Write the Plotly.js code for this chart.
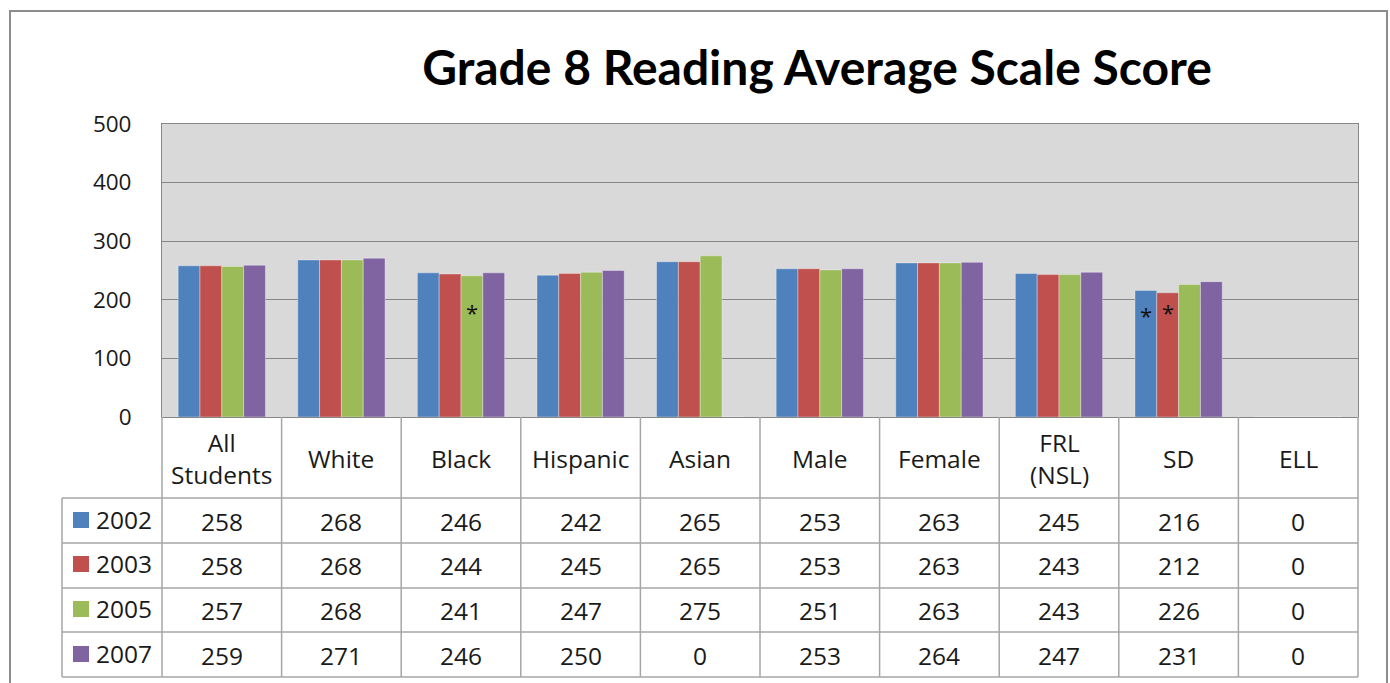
<!DOCTYPE html>
<html>
<head>
<meta charset="utf-8">
<script src="https://cdn.plot.ly/plotly-3.0.1.min.js"></script>
<style>html,body{margin:0;padding:0;background:#fff;}#chart{width:1390px;height:683px;}</style>
</head>
<body>
<div id="chart"></div>
<script>
const categories = ["All Students","White","Black","Hispanic","Asian","Male","Female","FRL (NSL)","SD","ELL"];
const headerLabels = ["All<br>Students","White","Black","Hispanic","Asian","Male","Female","FRL<br>(NSL)","SD","ELL"];
const years = ["2002","2003","2005","2007"];
const v2002 = [258,268,246,242,265,253,263,245,216,0];
const v2003 = [258,268,244,245,265,253,263,243,212,0];
const v2005 = [257,268,241,247,275,251,263,243,226,0];
const v2007 = [259,271,246,250,0,253,264,247,231,0];
const seriesValues = [v2002, v2003, v2005, v2007];
const colors = ["#4F81BD","#C0504D","#9BBB59","#8064A2"];
const yTicks = [0,100,200,300,400,500];
// asterisk notes: [category index, series index, y position]
const notes = [[2,2,180],[8,0,174],[8,1,179]];

const W = 1390, H = 683;
const plotL = 162, plotR = 1358, plotT = 124, plotB = 417;
const px = x => (x - plotL) / (plotR - plotL);
const py = y => (plotB - y) / (plotB - plotT);

const FONT = "Open Sans";
const TSIZE = 24.5;
const gridCol = "#868686";
const tblCol = "#A6A6A6";
const txtCol = "#1a1a1a";

const traces = seriesValues.map((vals, i) => ({
  type: "bar",
  name: years[i],
  x: categories,
  y: vals,
  marker: {color: colors[i], line: {color: "rgba(255,255,255,0.35)", width: 1}},
  hoverinfo: "x+y+name"
}));

const shapes = [];
const annotations = [];

// outer chart border
shapes.push({type:"rect", xref:"paper", yref:"paper", x0:px(10), x1:px(1387), y0:py(700), y1:py(11),
  line:{color:"#8C8C8C", width:2}, fillcolor:"rgba(0,0,0,0)", layer:"below"});

// table grid
const rowY = [417, 498, 543, 588, 632, 677];
const colX = [];
for (let i = 0; i <= categories.length; i++) colX.push(plotL + i * (plotR - plotL) / categories.length);
const tableLeft = 62;
rowY.forEach((y, k) => {
  if (k === 0) return;
  shapes.push({type:"line", xref:"paper", yref:"paper", x0:px(tableLeft), x1:px(plotR), y0:py(y), y1:py(y), line:{color:tblCol, width:1.5}});
});
colX.forEach(x => {
  shapes.push({type:"line", xref:"paper", yref:"paper", x0:px(x), x1:px(x), y0:py(417), y1:py(677), line:{color:tblCol, width:1.5}});
});
shapes.push({type:"line", xref:"paper", yref:"paper", x0:px(tableLeft), x1:px(tableLeft), y0:py(498), y1:py(677), line:{color:tblCol, width:1.5}});

// header labels
headerLabels.forEach((lab, i) => {
  annotations.push({xref:"x", yref:"paper", x:categories[i], y:py(458), text:lab, showarrow:false,
    font:{family:FONT, size:TSIZE, color:txtCol}, yanchor:"middle", xanchor:"center"});
});
// values + legend keys
const rowCenters = [521, 565, 610, 655];
seriesValues.forEach((vals, s) => {
  vals.forEach((v, i) => {
    annotations.push({xref:"x", yref:"paper", x:categories[i], y:py(rowCenters[s]), text:String(v), showarrow:false,
      font:{family:FONT, size:TSIZE, color:txtCol}, yanchor:"middle", xanchor:"center"});
  });
  shapes.push({type:"rect", xref:"paper", yref:"paper", x0:px(73), x1:px(89), y0:py(rowCenters[s]+7), y1:py(rowCenters[s]-9),
    fillcolor:colors[s], line:{width:0}});
  annotations.push({xref:"paper", yref:"paper", x:px(94), y:py(rowCenters[s]-2), text:years[s], showarrow:false,
    font:{family:FONT, size:TSIZE, color:txtCol}, yanchor:"middle", xanchor:"left"});
});

// asterisks
const barOffsets = [-0.274, -0.091, 0.091, 0.274];
notes.forEach(n => {
  annotations.push({xref:"x", yref:"y", x:categories[n[0]], y:n[2], text:"*", showarrow:false,
    xshift: barOffsets[n[1]] * (plotR - plotL) / categories.length,
    font:{family:FONT, size:22, color:"#111"}, yanchor:"middle"});
});

const layout = {
  width: W, height: H,
  margin: {l: plotL, r: W - plotR, t: plotT, b: H - plotB, pad: 0},
  paper_bgcolor: "#ffffff",
  plot_bgcolor: "#D9D9D9",
  title: {text: "<b>Grade 8 Reading Average Scale Score</b>", x: 817 / W, xanchor: "center", y: 1 - 68 / H, yanchor: "middle",
    font: {family: "Lato", size: 48, color: "#000"}},
  barmode: "group",
  bargap: 0.27,
  bargroupgap: 0,
  showlegend: false,
  xaxis: {type: "category", showticklabels: false, showgrid: false, zeroline: false, ticks: "",
    showline: true, linecolor: gridCol, linewidth: 1, mirror: true, range: [-0.5, 9.5]},
  yaxis: {range: [0, 500], tickvals: yTicks, ticktext: yTicks.map(String), showgrid: true, gridcolor: gridCol, gridwidth: 1,
    zeroline: false, showline: true, linecolor: gridCol, linewidth: 1, mirror: true,
    ticks: "outside", ticklen: 25, tickcolor: "rgba(0,0,0,0)",
    tickfont: {family: FONT, size: 22.5, color: txtCol}},
  shapes: shapes,
  annotations: annotations
};

Plotly.newPlot("chart", traces, layout, {displayModeBar: false, staticPlot: true});
</script>
</body>
</html>
